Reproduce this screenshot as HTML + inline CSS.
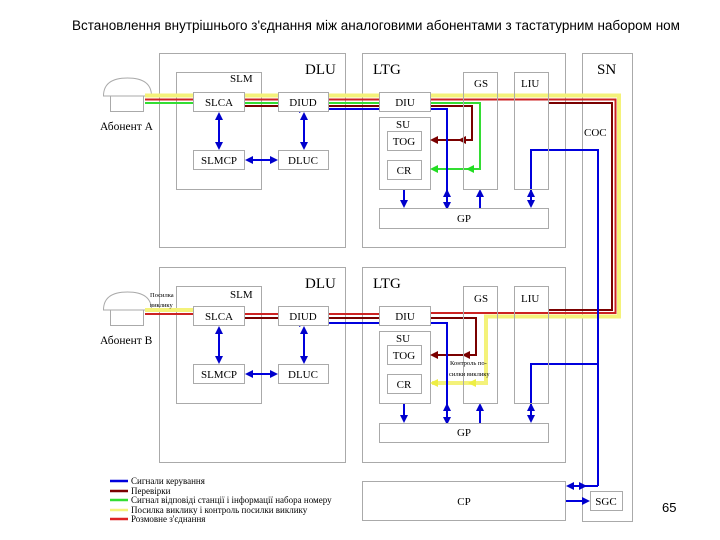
<!DOCTYPE html>
<html><head><meta charset="utf-8"><style>
html,body{margin:0;padding:0;background:#fff;}
svg{display:block;}
text{font-family:"Liberation Serif",serif;fill:#000;}
</style></head><body>
<svg width="720" height="540" viewBox="0 0 720 540" xmlns="http://www.w3.org/2000/svg">
<defs>
<marker id="ab" markerWidth="8" markerHeight="8" refX="6" refY="4" orient="auto-start-reverse" markerUnits="userSpaceOnUse"><path d="M0,0 L8,4 L0,8 Z" fill="#0000cc"/></marker>
<marker id="ar" markerWidth="8" markerHeight="8" refX="6" refY="4" orient="auto-start-reverse" markerUnits="userSpaceOnUse"><path d="M0,0 L8,4 L0,8 Z" fill="#7a0000"/></marker>
<marker id="ag" markerWidth="8" markerHeight="8" refX="6" refY="4" orient="auto-start-reverse" markerUnits="userSpaceOnUse"><path d="M0,0 L8,4 L0,8 Z" fill="#22dd22"/></marker>
<marker id="ay" markerWidth="8" markerHeight="8" refX="6" refY="4" orient="auto-start-reverse" markerUnits="userSpaceOnUse"><path d="M0,0 L8,4 L0,8 Z" fill="#eeee44"/></marker>
</defs>
<text x="72" y="30" style="font-family:'Liberation Sans',sans-serif;font-size:13.5px">Встановлення внутрішнього з'єднання між аналоговими абонентами з тастатурним набором номеру</text>
<rect x="679" y="10" width="41" height="30" fill="#fff"/>

<g fill="none" stroke="#aaa" stroke-width="1">
<rect x="159.5" y="53.5" width="186" height="194"/>
<rect x="362.5" y="53.5" width="203" height="194"/>
<rect x="582.5" y="53.5" width="50" height="468"/>
<rect x="176.5" y="72.5" width="85" height="117"/>
<rect x="379.5" y="117.5" width="51" height="72"/>
<rect x="159.5" y="267.5" width="186" height="195"/>
<rect x="362.5" y="267.5" width="203" height="195"/>
<rect x="176.5" y="286.5" width="85" height="117"/>
<rect x="379.5" y="331.5" width="51" height="72"/>
<rect x="362.5" y="481.5" width="203" height="39"/>
<path d="M103.5,96 Q103.5,78 127.5,78 Q151.5,78 151.5,96 Z"/>
<path d="M110.5,96 V111.5 H143.5 V96"/>
<path d="M103.5,310 Q103.5,292 127.5,292 Q151.5,292 151.5,310 Z"/>
<path d="M110.5,310 V325.5 H143.5 V310"/>
</g>

<g fill="none">
<polyline points="145,95.5 619,95.5 619,316.5 486,316.5 486,383 432,383" stroke="#f4f27a" stroke-width="4" marker-end="url(#ay)"/>
<polyline points="145,99.5 615.5,99.5 615.5,313 431,313" stroke="#cc2222" stroke-width="2"/>
<polyline points="145,103 480,103 480,169 432,169" stroke="#33dd33" stroke-width="2" marker-end="url(#ag)"/>
<polyline points="244,106 472,106 472,140 432,140" stroke="#7a0000" stroke-width="2" marker-end="url(#ar)"/>
<line x1="472" y1="140" x2="460" y2="140" stroke="#7a0000" stroke-width="2" marker-end="url(#ar)"/>
<line x1="480" y1="169" x2="468" y2="169" stroke="#33dd33" stroke-width="2" marker-end="url(#ag)"/>
<polyline points="548,103 612,103 612,310 548,310" stroke="#7a0000" stroke-width="2"/>
<line x1="145" y1="310" x2="193" y2="310" stroke="#f4f27a" stroke-width="4"/>
<line x1="145" y1="314" x2="431" y2="314" stroke="#cc2222" stroke-width="2"/>
<polyline points="244,318 476,318 476,355 432,355" stroke="#7a0000" stroke-width="2" marker-end="url(#ar)"/>
<line x1="476" y1="355" x2="464" y2="355" stroke="#7a0000" stroke-width="2" marker-end="url(#ar)"/>
<line x1="486" y1="383" x2="470" y2="383" stroke="#f4f27a" stroke-width="4" marker-end="url(#ay)"/>

<g stroke="#0000dd" stroke-width="2">
<polyline points="447,208 447,109 304,109 305,109" marker-start="url(#ab)" marker-end="url(#ab)"/>
<line x1="304" y1="114" x2="304" y2="148" marker-start="url(#ab)" marker-end="url(#ab)"/>
<line x1="219" y1="114" x2="219" y2="148" marker-start="url(#ab)" marker-end="url(#ab)"/>
<line x1="247" y1="160" x2="276" y2="160" marker-start="url(#ab)" marker-end="url(#ab)"/>
<line x1="404" y1="190" x2="404" y2="206" marker-end="url(#ab)"/>
<line x1="480" y1="208" x2="480" y2="191" marker-end="url(#ab)"/>
<polyline points="598,486 598,150 531,150 531,206" marker-end="url(#ab)"/>
<line x1="531" y1="200" x2="531" y2="191" marker-end="url(#ab)"/>
<line x1="447" y1="200" x2="447" y2="191" marker-end="url(#ab)"/>
<polyline points="447,423 447,323 304,323 305,323" marker-start="url(#ab)" marker-end="url(#ab)"/>
<line x1="304" y1="328" x2="304" y2="362" marker-start="url(#ab)" marker-end="url(#ab)"/>
<line x1="219" y1="328" x2="219" y2="362" marker-start="url(#ab)" marker-end="url(#ab)"/>
<line x1="247" y1="374" x2="276" y2="374" marker-start="url(#ab)" marker-end="url(#ab)"/>
<line x1="404" y1="404" x2="404" y2="421" marker-end="url(#ab)"/>
<line x1="480" y1="423" x2="480" y2="405" marker-end="url(#ab)"/>
<polyline points="598,364 531,364 531,421" marker-end="url(#ab)"/>
<line x1="531" y1="415" x2="531" y2="405" marker-end="url(#ab)"/>
<line x1="447" y1="415" x2="447" y2="405" marker-end="url(#ab)"/>
<polyline points="598,486 568,486" marker-end="url(#ab)"/>
<line x1="580" y1="486" x2="585" y2="486" marker-end="url(#ab)"/>
<line x1="566" y1="501" x2="588" y2="501" marker-end="url(#ab)"/>
</g>
</g>

<g fill="#fff" stroke="#aaa" stroke-width="1">
<rect x="193.5" y="92.5" width="51" height="19"/>
<rect x="278.5" y="92.5" width="50" height="19"/>
<rect x="193.5" y="150.5" width="51" height="19"/>
<rect x="278.5" y="150.5" width="50" height="19"/>
<rect x="379.5" y="92.5" width="51" height="19"/>
<rect x="387.5" y="131.5" width="34" height="19"/>
<rect x="387.5" y="160.5" width="34" height="19"/>
<rect x="379.5" y="208.5" width="169" height="20"/>
<rect x="193.5" y="306.5" width="51" height="19"/>
<rect x="278.5" y="306.5" width="50" height="19"/>
<rect x="193.5" y="364.5" width="51" height="19"/>
<rect x="278.5" y="364.5" width="50" height="19"/>
<rect x="379.5" y="306.5" width="51" height="19"/>
<rect x="387.5" y="345.5" width="34" height="19"/>
<rect x="387.5" y="374.5" width="34" height="19"/>
<rect x="379.5" y="423.5" width="169" height="19"/>
<rect x="590.5" y="491.5" width="32" height="19"/>
</g>
<g fill="none" stroke="#aaa" stroke-width="1">
<rect x="463.5" y="72.5" width="34" height="117"/>
<rect x="514.5" y="72.5" width="34" height="117"/>
<rect x="463.5" y="286.5" width="34" height="117"/>
<rect x="514.5" y="286.5" width="34" height="117"/>
</g>

<g font-size="11" text-anchor="middle">
<text x="219" y="106">SLCA</text><text x="303" y="106">DIUD</text>
<text x="219" y="164">SLMCP</text><text x="303" y="164">DLUC</text>
<text x="405" y="106">DIU</text><text x="404" y="145">TOG</text><text x="404" y="174">CR</text>
<text x="464" y="222">GP</text>
<text x="219" y="320">SLCA</text><text x="303" y="320">DIUD</text>
<text x="219" y="378">SLMCP</text><text x="303" y="378">DLUC</text>
<text x="405" y="320">DIU</text><text x="404" y="359">TOG</text><text x="404" y="388">CR</text>
<text x="464" y="436">GP</text>
<text x="464" y="505">CP</text><text x="606" y="505">SGC</text>
</g>
<g font-size="11">
<text x="230" y="82">SLM</text><text x="230" y="298">SLM</text>
<text x="396" y="128">SU</text><text x="396" y="342">SU</text>
<text x="474" y="87">GS</text><text x="521" y="87">LIU</text>
<text x="474" y="302">GS</text><text x="521" y="302">LIU</text>
<text x="584" y="136">COC</text>
<text x="100" y="130" font-size="11.5">Абонент А</text>
<text x="100" y="344" font-size="11.5">Абонент В</text>
</g>
<g font-size="15">
<text x="305" y="74">DLU</text><text x="373" y="74">LTG</text><text x="597" y="74">SN</text>
<text x="305" y="288">DLU</text><text x="373" y="288">LTG</text>
</g>
<g font-size="6.5">
<text x="150" y="297">Посилка</text><text x="150" y="307">виклику</text>
<text x="450" y="365">Контроль по-</text><text x="449" y="376">силки виклику</text>
</g>
<g stroke-width="2.5">
<line x1="110" y1="481" x2="128" y2="481" stroke="#0000dd"/>
<line x1="110" y1="491" x2="128" y2="491" stroke="#7a0000"/>
<line x1="110" y1="500" x2="128" y2="500" stroke="#33dd33"/>
<line x1="110" y1="510" x2="128" y2="510" stroke="#f4f27a"/>
<line x1="110" y1="519" x2="128" y2="519" stroke="#dd2222"/>
</g>
<g style="font-family:'Liberation Sans',sans-serif;font-size:9px">
<text x="131" y="484">Сигнали керування</text>
<text x="131" y="494">Перевірки</text>
<text x="131" y="503">Сигнал відповіді станції і інформації набора номеру</text>
<text x="131" y="513">Посилка виклику і контроль посилки виклику</text>
<text x="131" y="522">Розмовне з'єднання</text>
</g>
<text x="662" y="512" style="font-family:'Liberation Sans',sans-serif;font-size:13px">65</text>
</svg>
</body></html>
